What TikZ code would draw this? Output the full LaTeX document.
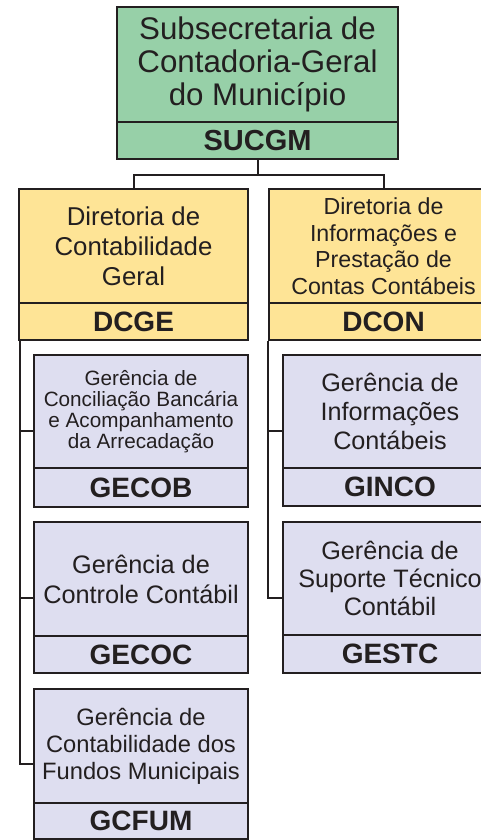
\documentclass[tikz,border=0pt]{standalone}
\usepackage{fontspec}
\setmainfont{Liberation Sans}
\usetikzlibrary{calc}
\definecolor{grn}{RGB}{151,208,168}
\definecolor{ylw}{RGB}{254,228,150}
\definecolor{lav}{RGB}{222,222,240}
\definecolor{ink}{RGB}{35,31,32}
\begin{document}
\begin{tikzpicture}[x=1pt,y=-1pt,
  box/.style={draw=ink, line width=2.6pt, text=ink, align=center, inner sep=0pt, minimum width=#1},
  codebox/.style={box=#1, font=\fontsize{28}{30}\selectfont\bfseries},
  conn/.style={draw=ink, line width=2pt}]
\useasboundingbox (0,0) rectangle (480,840);
% top
\node[box=281pt, fill=grn, minimum height=115pt, font=\fontsize{31.3}{33}\selectfont] (sub) at (257.5,64.5) {Subsecretaria de\\Contadoria-Geral\\do Município};
\node[codebox=281pt, fill=grn, minimum height=37pt, font=\fontsize{29}{31}\selectfont\bfseries] (subc) at (257.5,140.5) {SUCGM};
% directorates
\node[box=229pt, fill=ylw, minimum height=114pt, font=\fontsize{25.8}{30}\selectfont] (dcge) at (133.5,246) {Diretoria de\\Contabilidade\\Geral};
\node[codebox=229pt, fill=ylw, minimum height=37pt] (dcgec) at (133.5,321.5) {DCGE};
\node[box=229pt, fill=ylw, minimum height=114pt, font=\fontsize{23.2}{26.5}\selectfont] (dcon) at (383.5,246) {Diretoria de\\Informações e\\Prestação de\\Contas Contábeis};
\node[codebox=229pt, fill=ylw, minimum height=37pt] (dconc) at (383.5,321.5) {DCON};
% left managements
\node[box=214pt, fill=lav, minimum height=113pt, font=\fontsize{20.7}{21}\selectfont] (gecob) at (141,411.5) {Gerência de\\Conciliação Bancária\\e Acompanhamento\\da Arrecadação};
\node[codebox=214pt, fill=lav, minimum height=39pt] (gecobc) at (141,487.5) {GECOB};
\node[box=214pt, fill=lav, minimum height=114pt, font=\fontsize{25.3}{30}\selectfont] (gecoc) at (141,579) {Gerência de\\Controle Contábil};
\node[codebox=214pt, fill=lav, minimum height=37pt] (gecocc) at (141,654.5) {GECOC};
\node[box=214pt, fill=lav, minimum height=114pt, font=\fontsize{23.7}{27}\selectfont] (gcfum) at (141,746) {Gerência de\\Contabilidade dos\\Fundos Municipais};
\node[codebox=214pt, fill=lav, minimum height=36pt] (gcfumc) at (141,821) {GCFUM};
% right managements
\node[box=214pt, fill=lav, minimum height=113pt, font=\fontsize{25.2}{29}\selectfont] (ginco) at (390,411.5) {Gerência de\\Informações\\Contábeis};
\node[codebox=214pt, fill=lav, minimum height=38pt] (gincoc) at (390,487) {GINCO};
\node[box=214pt, fill=lav, minimum height=113pt, font=\fontsize{25.2}{28}\selectfont] (gestc) at (390,578.5) {Gerência de\\Suporte Técnico\\Contábil};
\node[codebox=214pt, fill=lav, minimum height=38pt] (gestcc) at (390,654) {GESTC};
% connectors top
\draw[conn] (subc.south) -- ++(0,15) coordinate (j);
\draw[conn] (dcge.north) |- (j) -| (dcon.north);
% left trunk
\coordinate (tl) at ([xshift=2pt]dcgec.south west);
\coordinate (m1) at ($(gecob.north west)!.5!(gecobc.south west)$);
\coordinate (m2) at ($(gecoc.north west)!.5!(gecocc.south west)$);
\coordinate (m3) at ($(gcfum.north west)!.5!(gcfumc.south west)$);
\draw[conn] (tl) |- (m3);
\draw[conn] (m1 -| tl) -- (m1);
\draw[conn] (m2 -| tl) -- (m2);
% right trunk
\coordinate (tr) at ([xshift=0pt]dconc.south west);
\coordinate (r1) at ($(ginco.north west)!.5!(gincoc.south west)$);
\coordinate (r2) at ($(gestc.north west)!.5!(gestcc.south west)$);
\draw[conn] (tr) |- (r2);
\draw[conn] (r1 -| tr) -- (r1);
\end{tikzpicture}
\end{document}
